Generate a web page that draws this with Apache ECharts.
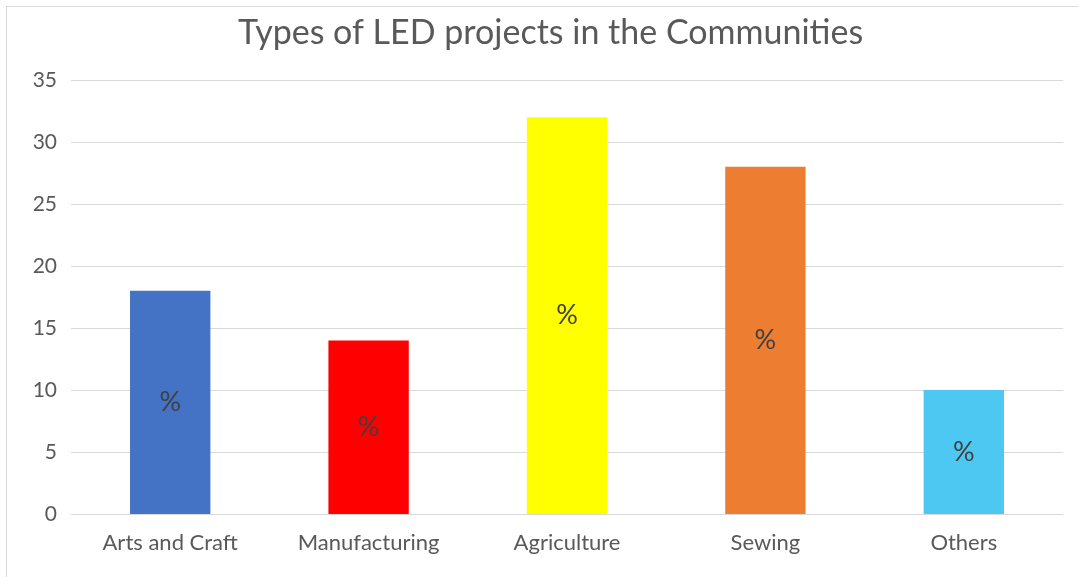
<!DOCTYPE html>
<html>
<head>
<meta charset="utf-8">
<script src="https://cdn.jsdelivr.net/npm/echarts@6/dist/echarts.min.js"></script>
<style>
  html, body { margin: 0; padding: 0; background: #fff; overflow: hidden; }
  #frame { position: absolute; left: 6px; top: 6px; width: 1090px; height: 600px; border: 1px solid #d9d9d9; box-sizing: border-box; }
  #chart { position: absolute; left: 0; top: 0; width: 1078px; height: 577px; }
</style>
</head>
<body>
<div id="frame"></div>
<div id="chart"></div>
<script>
const categories = ['Arts and Craft', 'Manufacturing', 'Agriculture', 'Sewing', 'Others'];
const values = [18, 14, 32, 28, 10];
const barColors = ['#4472C4', '#FF0000', '#FFFF00', '#ED7D31', '#4DC8F2'];
const barLabel = '%';

const chart = echarts.init(document.getElementById('chart'), null, { renderer: 'canvas' });
const FONT = 'Lato, "Open Sans", sans-serif';

chart.setOption({
  animation: false,
  title: {
    text: 'Types of LED projects in the Communities',
    left: 233,
    top: 11,
    textStyle: { fontFamily: FONT, fontSize: 34, fontWeight: 'normal', color: '#595959' }
  },
  grid: { left: 71, right: 15, top: 80, bottom: 63 },
  xAxis: {
    type: 'category',
    data: categories,
    axisLine: { show: true, lineStyle: { color: '#d9d9d9' } },
    axisTick: { show: false },
    axisLabel: { fontFamily: FONT, fontSize: 22, color: '#595959', margin: 18 }
  },
  yAxis: {
    type: 'value',
    min: 0,
    max: 35,
    interval: 5,
    axisLine: { show: false },
    axisTick: { show: false },
    splitLine: { lineStyle: { color: '#d9d9d9', width: 1 } },
    axisLabel: { fontFamily: FONT, fontSize: 21, color: '#595959', margin: 14 }
  },
  series: [{
    type: 'bar',
    data: values.map((v, i) => ({ value: v, itemStyle: { color: barColors[i] } })),
    barWidth: '40.5%',
    label: {
      show: true,
      position: 'inside',
      formatter: barLabel,
      fontFamily: FONT,
      fontSize: 27,
      color: '#404040'
    }
  }]
});
</script>
</body>
</html>
